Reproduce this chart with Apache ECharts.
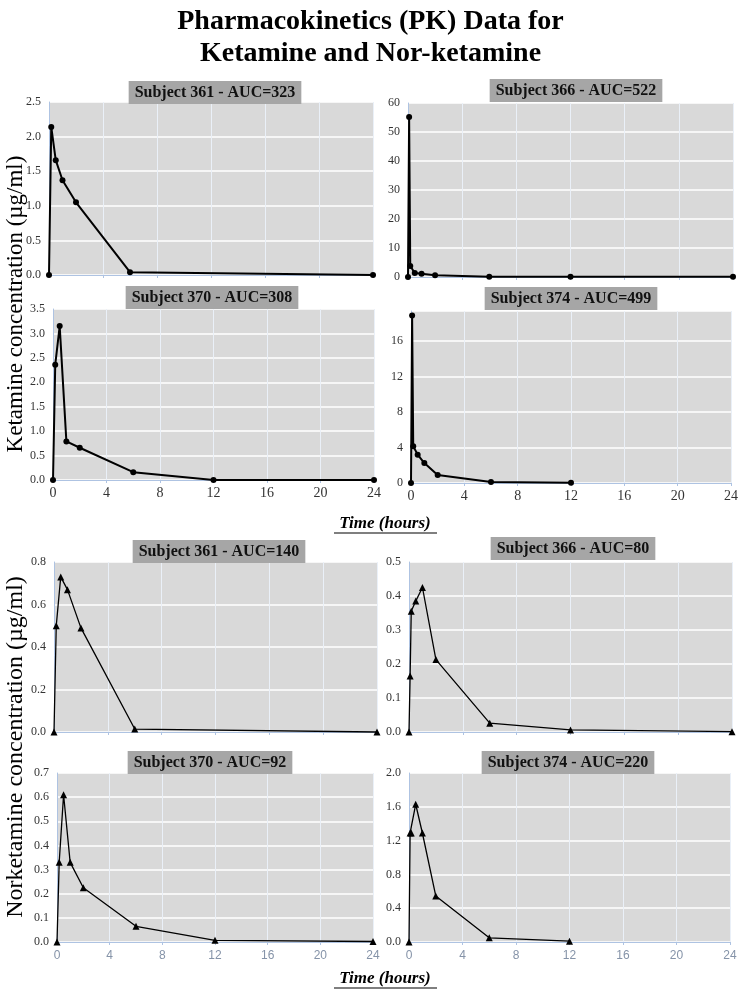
<!DOCTYPE html>
<html><head><meta charset="utf-8">
<script src="https://cdn.jsdelivr.net/npm/echarts@6/dist/echarts.min.js"></script>
<style>html,body{margin:0;padding:0;background:#fff}#c{width:741px;height:993px}</style>
</head><body><div id="c"></div>
<script>
// ---------------- DATA ----------------
const chartTitle = 'Pharmacokinetics (PK) Data for\nKetamine and Nor-ketamine';
const ketYTitle = 'Ketamine concentration (\u00b5g/ml)';
const norYTitle = 'Norketamine concentration (\u00b5g/ml)';
const xTitle = 'Time (hours)';

const panelTitles = [
  'Subject 361 - AUC=323', 'Subject 366 - AUC=522',
  'Subject 370 - AUC=308', 'Subject 374 - AUC=499',
  'Subject 361 - AUC=140', 'Subject 366 - AUC=80',
  'Subject 370 - AUC=92',  'Subject 374 - AUC=220'
];

// Ketamine (hours / µg/ml)
const k361Time = [0, 0.167, 0.5, 1, 2, 6, 24];
const k361Conc = [0, 2.14, 1.66, 1.37, 1.05, 0.04, 0.0];
const k366Time = [0, 0.083, 0.167, 0.5, 1, 2, 6, 12, 24];
const k366Conc = [0, 55.2, 3.8, 1.35, 1.15, 0.6, 0.12, 0.1, 0.08];
const k370Time = [0, 0.167, 0.5, 1, 2, 6, 12, 24];
const k370Conc = [0, 2.36, 3.15, 0.79, 0.66, 0.16, 0.0, 0.0];
const k374Time = [0, 0.083, 0.167, 0.5, 1, 2, 6, 12];
const k374Conc = [0, 18.9, 4.15, 3.2, 2.25, 0.9, 0.1, 0.03];

// Norketamine (hours / µg/ml)
const n361Time = [0, 0.167, 0.5, 1, 2, 6, 24];
const n361Conc = [0, 0.50, 0.73, 0.67, 0.49, 0.014, 0.0];
const n366Time = [0, 0.083, 0.167, 0.5, 1, 2, 6, 12, 24];
const n366Conc = [0, 0.165, 0.355, 0.385, 0.425, 0.213, 0.026, 0.006, 0.001];
const n370Time = [0, 0.167, 0.5, 1, 2, 6, 12, 24];
const n370Conc = [0, 0.33, 0.61, 0.33, 0.225, 0.065, 0.007, 0.002];
const n374Time = [0, 0.083, 0.167, 0.5, 1, 2, 6, 12];
const n374Conc = [0, 1.29, 1.29, 1.63, 1.29, 0.545, 0.05, 0.01];

const xTicks = { min: 0, max: 24, interval: 4 };
const yScales = [
  { min: 0, max: 2.5, interval: 0.5, dec: 1 },
  { min: 0, max: 60, interval: 10, dec: 0 },
  { min: 0, max: 3.5, interval: 0.5, dec: 1 },
  { min: 0, max: 19.4, interval: 4, dec: 0, hideMax: true },
  { min: 0, max: 0.8, interval: 0.2, dec: 1 },
  { min: 0, max: 0.5, interval: 0.1, dec: 1 },
  { min: 0, max: 0.7, interval: 0.1, dec: 1 },
  { min: 0, max: 2.0, interval: 0.4, dec: 1 }
];

const seriesTimes = [k361Time, k366Time, k370Time, k374Time, n361Time, n366Time, n370Time, n374Time];
const seriesConcs = [k361Conc, k366Conc, k370Conc, k374Conc, n361Conc, n366Conc, n370Conc, n374Conc];

// ---------------- LAYOUT ----------------
const grids = [
  { left: 49,  top: 102, width: 324, height: 173 },
  { left: 408, top: 103, width: 325, height: 174 },
  { left: 53,  top: 309, width: 321, height: 171 },
  { left: 411, top: 311, width: 321, height: 172 },
  { left: 54,  top: 562, width: 323, height: 170 },
  { left: 409, top: 562, width: 323, height: 170 },
  { left: 57,  top: 773, width: 316, height: 169 },
  { left: 409, top: 773, width: 321, height: 169 }
];
const boxPos = [
  [209, 81], [570, 79], [206, 286], [565, 287],
  [213, 540], [567, 537], [204, 751], [562, 751]
];

const serif = '"Liberation Serif", "Times New Roman", serif';
const axisBlue = '#aec3e2';

const option = {
  backgroundColor: '#ffffff',
  animation: false,
  title: [{
    text: chartTitle,
    left: 'center', top: 1,
    textStyle: { fontFamily: serif, fontWeight: 'bold', fontSize: 28, lineHeight: 32, color: '#000' }
  }].concat(panelTitles.map((t, i) => ({
    text: t,
    left: boxPos[i][0], top: boxPos[i][1],
    textAlign: 'center',
    backgroundColor: '#a6a6a6',
    padding: [3, 6, 3, 6],
    itemGap: 0,
    textStyle: { fontFamily: serif, fontWeight: 'bold', fontSize: 16, lineHeight: 17, color: '#111' }
  }))),
  grid: grids.map(g => Object.assign({ show: true, backgroundColor: '#d9d9d9', borderWidth: 0, containLabel: false }, g)),
  xAxis: grids.map((g, i) => ({
    type: 'value', gridIndex: i,
    min: xTicks.min, max: xTicks.max, interval: xTicks.interval,
    axisLine: { show: true, onZero: false, lineStyle: { color: axisBlue, width: 1 } },
    axisTick: { show: true, length: 3, lineStyle: { color: axisBlue } },
    splitLine: { show: true, lineStyle: { color: '#eaf0f8', width: 1 } },
    axisLabel: (i === 2 || i === 3) ? { show: true, margin: 6, fontFamily: serif, fontSize: 14, color: '#333' }
             : (i === 6 || i === 7) ? { show: true, margin: 8, fontFamily: '"Liberation Sans", Arial, sans-serif', fontSize: 12, color: '#8593a8' }
             : { show: false }
  })),
  yAxis: grids.map((g, i) => ({
    type: 'value', gridIndex: i,
    min: yScales[i].min, max: yScales[i].max, interval: yScales[i].interval,
    axisLine: { show: true, lineStyle: { color: axisBlue, width: 1 } },
    axisTick: { show: false },
    splitLine: { show: true, lineStyle: { color: '#ffffff', width: 1.5 } },
    axisLabel: {
      show: true, margin: 8, fontFamily: serif, fontSize: 12, color: '#333',
      showMaxLabel: !yScales[i].hideMax,
      formatter: v => v.toFixed(yScales[i].dec)
    }
  })),
  series: seriesTimes.map((ts, i) => ({
    type: 'line', xAxisIndex: i, yAxisIndex: i,
    data: ts.map((t, j) => [t, seriesConcs[i][j]]),
    symbol: i < 4 ? 'circle' : 'triangle',
    symbolSize: i < 4 ? 6 : 7,
    clip: false,
    lineStyle: { color: '#000', width: i < 4 ? 2 : 1.3 },
    itemStyle: { color: '#000' }
  })),
  graphic: [
    { type: 'text', x: 16, y: 304, rotation: Math.PI / 2,
      style: { text: ketYTitle, font: '23px ' + serif, fill: '#000', align: 'center', verticalAlign: 'middle', textAlign: 'center', textVerticalAlign: 'middle' } },
    { type: 'text', x: 16, y: 747, rotation: Math.PI / 2,
      style: { text: norYTitle, font: '24px ' + serif, fill: '#000', align: 'center', verticalAlign: 'middle', textAlign: 'center', textVerticalAlign: 'middle' } },
    { type: 'text', x: 385, y: 524,
      style: { text: xTitle, font: 'italic bold 17px ' + serif, fill: '#000', align: 'center', verticalAlign: 'middle', textAlign: 'center', textVerticalAlign: 'middle' } },
    { type: 'line', shape: { x1: 334, y1: 533, x2: 437, y2: 533 }, style: { stroke: '#000', lineWidth: 1.2 } },
    { type: 'text', x: 385, y: 979,
      style: { text: xTitle, font: 'italic bold 17px ' + serif, fill: '#000', align: 'center', verticalAlign: 'middle', textAlign: 'center', textVerticalAlign: 'middle' } },
    { type: 'line', shape: { x1: 334, y1: 988, x2: 437, y2: 988 }, style: { stroke: '#000', lineWidth: 1.2 } }
  ]
};

const chart = echarts.init(document.getElementById('c'), null, { renderer: 'canvas' });
chart.setOption(option);
</script>
</body></html>
